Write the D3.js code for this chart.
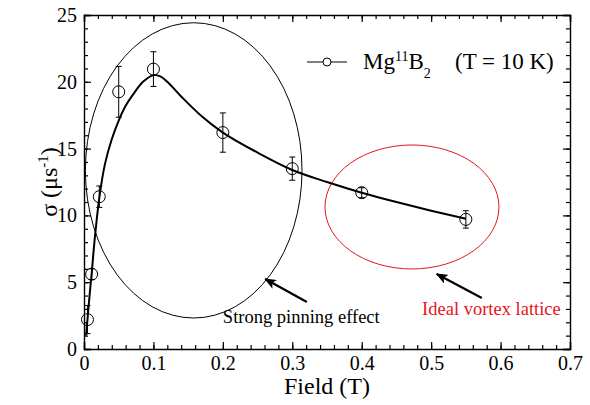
<!DOCTYPE html>
<html>
<head>
<meta charset="utf-8">
<script src="https://cdn.jsdelivr.net/npm/d3@7"></script>
<style>
  body { margin: 0; background: #fff; }
</style>
</head>
<body>
<div id="chart"></div>
<script>
// measured points, Mg11B2 at T = 10 K
var field = [0.005, 0.011, 0.022, 0.05, 0.1, 0.2, 0.3, 0.4, 0.55];
var sigma = [2.2, 5.6, 11.4, 19.25, 20.95, 16.2, 13.5, 11.7, 9.7];
var sigmaErr = [1.05, 0.4, 0.8, 1.9, 1.3, 1.47, 0.87, 0.37, 0.65];

// guide curve
var curveField = [0.003, 0.005, 0.008, 0.011, 0.015, 0.022, 0.03, 0.04, 0.05, 0.06, 0.07, 0.085, 0.1, 0.11, 0.12, 0.14, 0.17, 0.2, 0.25, 0.3, 0.35, 0.4, 0.45, 0.5, 0.55];
var curveSigma = [1.0, 2.2, 4.0, 5.6, 8.0, 11.3, 13.8, 15.7, 17.1, 18.2, 19.0, 20.0, 20.5, 20.4, 20.0, 18.9, 17.4, 16.2, 14.7, 13.4, 12.5, 11.7, 11.0, 10.35, 9.75];

// tick labels
var xTicks = [0, 0.1, 0.2, 0.3, 0.4, 0.5, 0.6, 0.7];
var xTickLabels = ["0", "0.1", "0.2", "0.3", "0.4", "0.5", "0.6", "0.7"];
var yTicks = [0, 5, 10, 15, 20, 25];

// annotation ellipses (data units): cx, cy, rx, ry
var pinningEllipse = [0.158, 13.37, 0.156, 11.05];
var latticeEllipse = [0.4724, 10.63, 0.1253, 4.64];

var serif = "'Liberation Serif', 'Times New Roman', serif";

var margin = {top: 15, right: 20, bottom: 56, left: 84},
    width = 590 - margin.left - margin.right,
    height = 405 - margin.top - margin.bottom;

var x = d3.scaleLinear().domain([0, 0.7]).range([0, width]);
var y = d3.scaleLinear().domain([0, 25]).range([height, 0]);

var svg = d3.select("#chart").append("svg")
    .attr("width", 590)
    .attr("height", 405)
    .style("font-family", serif)
  .append("g")
    .attr("transform", "translate(" + margin.left + "," + margin.top + ")");

svg.append("defs").append("marker")
    .attr("id", "head")
    .attr("viewBox", "0 0 12 10")
    .attr("refX", 11)
    .attr("refY", 5)
    .attr("markerWidth", 12)
    .attr("markerHeight", 10)
    .attr("markerUnits", "userSpaceOnUse")
    .attr("orient", "auto")
  .append("path")
    .attr("d", "M0,0 L12,5 L0,10 L3,5 Z")
    .attr("fill", "#000");

//Minor ticks on all four sides
var xMinor = d3.range(0, 0.7001, 0.02), yMinor = d3.range(0, 25.001, 1);
function minor(g) { g.select(".domain").remove(); g.selectAll("text").remove(); }
svg.append("g").attr("transform", "translate(0," + height + ")")
  .call(d3.axisBottom(x).tickValues(xMinor).tickSize(-4)).call(minor);
svg.append("g")
  .call(d3.axisTop(x).tickValues(xMinor).tickSize(-4)).call(minor);
svg.append("g")
  .call(d3.axisLeft(y).tickValues(yMinor).tickSize(-4)).call(minor);
svg.append("g").attr("transform", "translate(" + width + ",0)")
  .call(d3.axisRight(y).tickValues(yMinor).tickSize(-4)).call(minor);

//Major ticks and labels
svg.append("g")
    .attr("class", "xaxis")
    .attr("transform", "translate(0," + height + ")")
    .call(d3.axisBottom(x).tickValues(xTicks).tickSize(-7).tickPadding(7)
      .tickFormat(function(d, i) { return xTickLabels[i]; }));
svg.append("g")
    .call(d3.axisTop(x).tickValues(xTicks).tickSize(-7).tickFormat(""));
svg.append("g")
    .attr("class", "yaxis")
    .call(d3.axisLeft(y).tickValues(yTicks).tickSize(-7).tickPadding(7));
svg.append("g")
    .attr("transform", "translate(" + width + ",0)")
    .call(d3.axisRight(y).tickValues(yTicks).tickSize(-7).tickFormat(""));

svg.selectAll("g").attr("font-family", null);
svg.selectAll(".tick line").attr("stroke", "#000").attr("stroke-width", 1.2);
svg.selectAll(".domain").attr("stroke", "#000").attr("stroke-width", 1.4);
svg.selectAll(".tick text")
    .style("font-size", "20px")
    .style("font-family", serif)
    .attr("fill", "#000");

//Axis titles
svg.append("text")
    .attr("x", width / 2)
    .attr("y", height + 45)
    .style("text-anchor", "middle")
    .style("font-family", serif)
    .style("font-size", "24px")
    .text("Field (T)");

var ylab = svg.append("text")
    .attr("transform", "translate(" + (-27) + "," + (height / 2) + ") rotate(-90)")
    .style("text-anchor", "middle")
    .style("font-family", serif)
    .style("font-size", "24px");
ylab.append("tspan").text("σ (μs");
ylab.append("tspan").attr("dy", -9).style("font-size", "15px").text("-1");
ylab.append("tspan").attr("dy", 9).text(")");

//Ellipses
function ellipse(e, color) {
  svg.append("ellipse")
    .attr("cx", x(e[0])).attr("cy", y(e[1]))
    .attr("rx", x(e[2]) - x(0)).attr("ry", y(0) - y(e[3]))
    .attr("fill", "none").attr("stroke", color).attr("stroke-width", 1);
}
ellipse(pinningEllipse, "#000");
ellipse(latticeEllipse, "#e8141b");

//Guide curve
var curveData = curveField.map(function(d, i) { return [d, curveSigma[i]]; });
svg.append("path")
    .datum(curveData)
    .attr("fill", "none")
    .attr("stroke", "#000")
    .attr("stroke-width", 2)
    .attr("d", d3.line()
      .x(function(d) { return x(d[0]); })
      .y(function(d) { return y(d[1]); })
      .curve(d3.curveCatmullRom));

//Error bars and markers
var pts = field.map(function(d, i) { return {f: d, s: sigma[i], e: sigmaErr[i]}; });
var pt = svg.selectAll("g.pt").data(pts).enter().append("g").attr("class", "pt");
pt.append("line")
    .attr("x1", function(d) { return x(d.f); }).attr("x2", function(d) { return x(d.f); })
    .attr("y1", function(d) { return y(d.s - d.e); }).attr("y2", function(d) { return y(d.s + d.e); })
    .attr("stroke", "#000");
[-1, 1].forEach(function(sgn) {
  pt.append("line")
    .attr("x1", function(d) { return x(d.f) - 3; }).attr("x2", function(d) { return x(d.f) + 3; })
    .attr("y1", function(d) { return y(d.s + sgn * d.e); }).attr("y2", function(d) { return y(d.s + sgn * d.e); })
    .attr("stroke", "#000");
});
pt.append("circle")
    .attr("cx", function(d) { return x(d.f); })
    .attr("cy", function(d) { return y(d.s); })
    .attr("r", 6)
    .attr("fill", "none")
    .attr("stroke", "#000");

//Legend
svg.append("line")
    .attr("x1", 223).attr("x2", 263).attr("y1", 47).attr("y2", 47)
    .attr("stroke", "#000");
svg.append("circle").attr("cx", 243).attr("cy", 47).attr("r", 4)
    .attr("fill", "#fff").attr("stroke", "#000");
var leg = svg.append("text").attr("x", 279).attr("y", 54)
    .style("font-family", serif).style("font-size", "23px");
leg.append("tspan").text("Mg");
leg.append("tspan").attr("dy", -8).style("font-size", "14px").text("11");
leg.append("tspan").attr("dy", 8).text("B");
leg.append("tspan").attr("dy", 9).style("font-size", "14px").text("2");
svg.append("text").attr("x", 371).attr("y", 54)
    .style("font-family", serif).style("font-size", "23px").text("(T = 10 K)");

//Arrows and notes
svg.append("line")
    .attr("x1", x(0.321)).attr("y1", y(3.52)).attr("x2", x(0.261)).attr("y2", y(5.24))
    .attr("stroke", "#000").attr("stroke-width", 2.2).attr("marker-end", "url(#head)");
svg.append("line")
    .attr("x1", x(0.573)).attr("y1", y(3.82)).attr("x2", x(0.508)).attr("y2", y(5.61))
    .attr("stroke", "#000").attr("stroke-width", 2.2).attr("marker-end", "url(#head)");

svg.append("text")
    .attr("x", x(0.2)).attr("y", y(1.95))
    .style("font-family", serif)
    .style("font-size", "18.5px")
    .text("Strong pinning effect");
svg.append("text")
    .attr("x", x(0.487)).attr("y", y(2.54))
    .style("font-family", serif)
    .style("font-size", "18.5px")
    .style("fill", "#e8141b")
    .text("Ideal vortex lattice");
</script>
</body>
</html>
